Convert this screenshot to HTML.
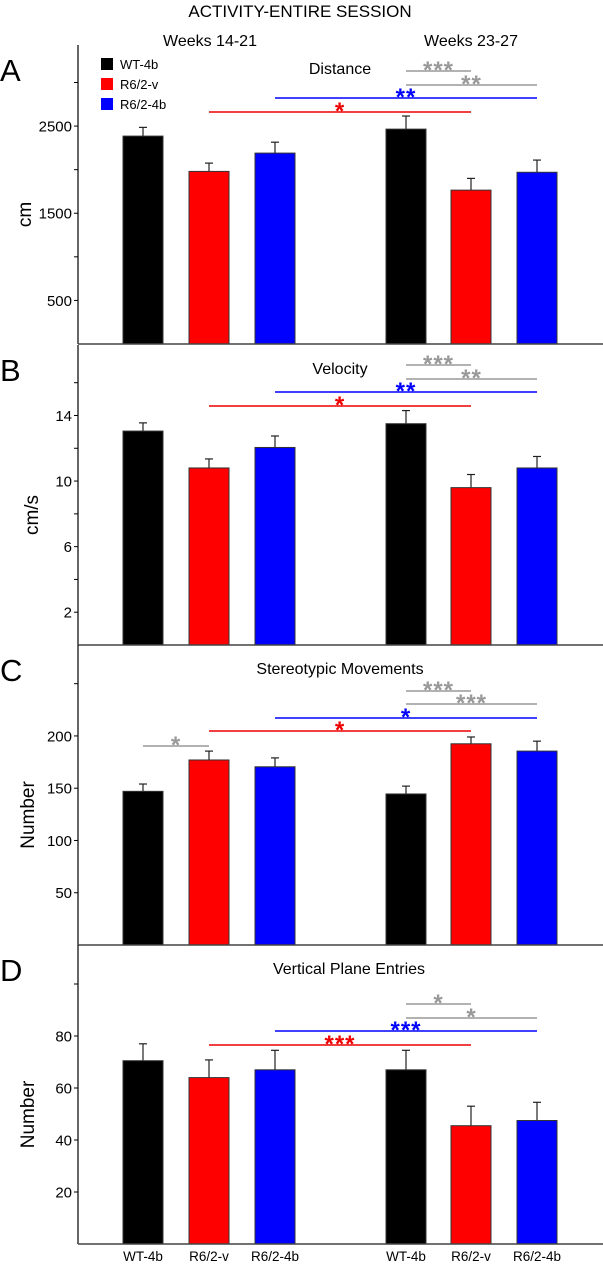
<!DOCTYPE html>
<html><head><meta charset="utf-8">
<style>
html,body{margin:0;padding:0;background:#fff;}
svg{display:block;font-family:"Liberation Sans",Arial,sans-serif;}
</style></head>
<body>
<svg id="chart" width="603" height="1270" viewBox="0 0 603 1270" xmlns="http://www.w3.org/2000/svg">
<text x="300" y="17" font-size="17" text-anchor="middle">ACTIVITY-ENTIRE SESSION</text>
<text x="210" y="46" font-size="16" text-anchor="middle">Weeks 14-21</text>
<text x="471" y="46" font-size="16" text-anchor="middle">Weeks 23-27</text>
<g>
<rect x="101" y="58" width="12" height="12" fill="#000"/>
<text x="120" y="69" font-size="13">WT-4b</text>
<rect x="101" y="78" width="12" height="12" fill="#f00"/>
<text x="120" y="89" font-size="13">R6/2-v</text>
<rect x="101" y="98" width="12" height="12" fill="#00f"/>
<text x="120" y="109" font-size="13">R6/2-4b</text>
</g>
<g id="panels"></g>
</svg>
<script>
// shared
const categories = ["WT-4b","R6/2-v","R6/2-4b","WT-4b","R6/2-v","R6/2-4b"];
const colors = ["#000","#f00","#00f","#000","#f00","#00f"];
// Panel A - Distance
const distValues = [2385, 1980, 2190, 2465, 1765, 1970];
const distErr = [2485, 2075, 2315, 2615, 1900, 2110];
const distTicks = [500, 1000, 1500, 2000, 2500, 3000];
const distLabels = ["500", "", "1500", "", "2500", ""];
// Panel B - Velocity
const velValues = [13.05, 10.8, 12.05, 13.5, 9.6, 10.8];
const velErr = [13.55, 11.35, 12.75, 14.3, 10.4, 11.5];
const velTicks = [2, 4, 6, 8, 10, 12, 14, 16];
const velLabels = ["2", "", "6", "", "10", "", "14", ""];
// Panel C - Stereotypic
const stereoValues = [147, 177, 170.5, 144.5, 192.5, 185.5];
const stereoErr = [154, 185.5, 179, 152, 199, 195];
const stereoTicks = [50, 100, 150, 200, 250];
const stereoLabels = ["50", "100", "150", "200", ""];
// Panel D - Vertical
const vertValues = [70.5, 64, 67, 67, 45.5, 47.5];
const vertErr = [77, 70.8, 74.5, 74.5, 53, 54.5];
const vertTicks = [20, 40, 60, 80, 100];
const vertLabels = ["20", "40", "60", "80", ""];

const barX = [123, 189, 255, 386, 451, 517];
const barW = 40;
const NS = "http://www.w3.org/2000/svg";
const root = document.getElementById('panels');
function mk(tag, attrs, parent, text){
  const e = document.createElementNS(NS, tag);
  for (const k in attrs) e.setAttribute(k, attrs[k]);
  if (text !== undefined) e.textContent = text;
  parent.appendChild(e); return e;
}
const panels = [
  {id:'a', letter:'A', title:'Distance', tx:340, values:distValues, err:distErr, ticks:distTicks, labels:distLabels, top:45, bottom:344, max:3430, ytitle:'cm', ytx:31,
   sig:[[3,4,71,'#999','***'],[3,5,85,'#999','**'],[2,5,98,'#00f','**'],[1,4,112,'#e00','*']]},
  {id:'b', letter:'B', title:'Velocity', tx:340, values:velValues, err:velErr, ticks:velTicks, labels:velLabels, top:345, bottom:645, max:18.3, ytitle:'cm/s', ytx:38,
   sig:[[3,4,365,'#999','***'],[3,5,379,'#999','**'],[2,5,392,'#00f','**'],[1,4,406,'#e00','*']]},
  {id:'c', letter:'C', title:'Stereotypic Movements', tx:340, values:stereoValues, err:stereoErr, ticks:stereoTicks, labels:stereoLabels, top:645, bottom:945, max:287, ytitle:'Number', ytx:34,
   sig:[[0,1,746,'#999','*'],[3,4,691,'#999','***'],[3,5,704,'#999','***'],[2,5,718,'#00f','*'],[1,4,731,'#e00','*']]},
  {id:'d', letter:'D', title:'Vertical Plane Entries', tx:349, values:vertValues, err:vertErr, ticks:vertTicks, labels:vertLabels, top:945, bottom:1244, max:115, ytitle:'Number', ytx:34,
   sig:[[3,4,1004,'#999','*'],[3,5,1018,'#999','*'],[2,5,1031,'#00f','***'],[1,4,1045,'#e00','***']]}
];
panels.forEach(p => {
  const g = mk('g', {}, root);
  
  
  const y = v => p.bottom - (v / p.max) * (p.bottom - p.top);
  const letter = mk('text', {x:0, y:p.top + 36, 'font-size':31}, g, p.letter);
  
  
  const title = mk('text', {x:p.tx, y:p.top + 29, 'font-size':16, 'text-anchor':'middle'}, g, p.title);
  
  
  const yt = mk('text', {x:0, y:0, 'font-size':19, 'text-anchor':'middle', transform:`translate(${p.ytx},${(p.top+p.bottom)/2+20}) rotate(-90)`}, g, p.ytitle);
  
  
  // bars
  p.values.forEach((v, i) => {
    const ey = y(p.err[i]);
    const cx = barX[i] + barW/2;
    const el = mk('line', {x1:cx, x2:cx, y1:ey, y2:y(v), stroke:'#222', 'stroke-width':1.2}, g);
    
    
    const cap = mk('line', {x1:cx-4, x2:cx+4, y1:ey, y2:ey, stroke:'#222', 'stroke-width':1.2}, g);
    
    
    const r = mk('rect', {x:barX[i], y:y(v), width:barW, height:p.bottom - y(v), fill:colors[i], stroke:'#333', 'stroke-width':1}, g);
    
    
  });
  // axes
  const ya = mk('line', {x1:78, x2:78, y1:p.top, y2:p.bottom, stroke:'#000', 'stroke-width':1.2}, g);
  
  
  const xa = mk('line', {x1:78, x2:603, y1:p.bottom, y2:p.bottom, stroke:'#444', 'stroke-width':1.5}, g);
  
  
  p.ticks.forEach((t, i) => {
    const ty = y(t);
    const tk = mk('line', {x1:74, x2:78, y1:ty, y2:ty, stroke:'#000', 'stroke-width':1}, g);
    
    
    if (p.labels[i]) {
      const tl = mk('text', {x:72, y:ty + 5.5, 'font-size':15, 'text-anchor':'end'}, g, p.labels[i]);
      
      
    }
  });
  // significance
  p.sig.forEach(s => {
    const x1 = barX[s[0]] + barW/2, x2 = barX[s[1]] + barW/2;
    const ln = mk('line', {x1:x1, x2:x2, y1:s[2], y2:s[2], stroke:s[3], 'stroke-width':1.6}, g);
    
    
    const st = mk('text', {x:(x1+x2)/2, y:s[2] + 7, 'font-size':24, 'font-weight':'bold', fill:s[3], 'text-anchor':'middle', 'letter-spacing':'1'}, g, s[4]);
    
    
  });
});
categories.forEach((c, i) => {
  const t = mk('text', {x:barX[i] + barW/2, y:1261, 'font-size':13.5, 'text-anchor':'middle'}, root, c);
  
  
});
</script>
</body></html>
